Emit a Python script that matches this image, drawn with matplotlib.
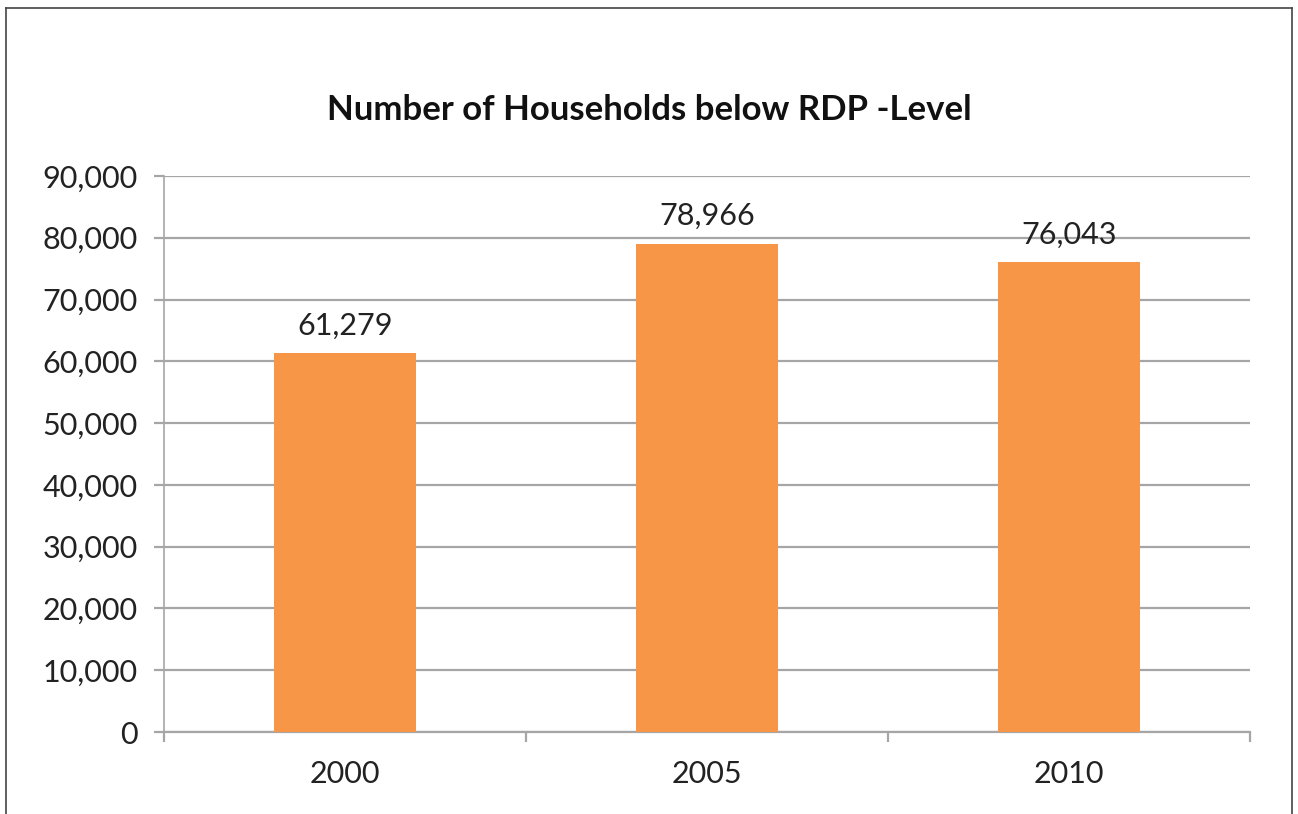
import numpy as np
import matplotlib.pyplot as plt
from matplotlib.lines import Line2D

# Dados do gráfico
anos = ['2000', '2005', '2010']
domicilios = [61279, 78966, 76043]
rotulos = ['61,279', '78,966', '76,043']
y_ticks = [0, 10000, 20000, 30000, 40000, 50000, 60000, 70000, 80000, 90000]

plt.rcParams['font.family'] = ['Lato', 'DejaVu Sans']

fig = plt.figure(figsize=(12.98, 8.14), dpi=100)
ax = fig.add_axes([164/1298, 1 - 732/814, (1250 - 164)/1298, (732 - 176)/814])

cor_barra = '#F79646'
cinza = '#A6A6A6'
texto = '#222222'

x = np.arange(len(anos))
ax.bar(x, domicilios, width=0.39, color=cor_barra, zorder=3)

for xi, v, r in zip(x, domicilios, rotulos):
    ax.annotate(r, (xi, v), xytext=(0, 10), textcoords='offset points',
                ha='center', va='bottom', fontsize=22, color=texto)

ax.set_xlim(-0.5, 2.5)
ax.set_ylim(0, 90000)
ax.set_yticks(y_ticks)
ax.set_yticklabels([f'{v:,}' for v in y_ticks], fontsize=22, color=texto)
ax.set_xticks(x)
ax.set_xticklabels(anos, fontsize=22, color=texto)
ax.set_xticks([-0.5, 0.5, 1.5, 2.5], minor=True)

ax.grid(axis='y', color=cinza, lw=1.6, zorder=0)
for s in ['top', 'right']:
    ax.spines[s].set_visible(False)
ax.spines['left'].set_color(cinza)
ax.spines['bottom'].set_color(cinza)
ax.spines['left'].set_linewidth(1.2)
ax.spines['bottom'].set_linewidth(1.6)

ax.tick_params(axis='y', which='major', length=7, color=cinza, width=1.6, pad=12)
ax.tick_params(axis='x', which='major', length=0, pad=20)
ax.tick_params(axis='x', which='minor', length=7, color=cinza, width=1.6)

# Título centralizado na figura
fig.text(0.5, 1 - 110/814, 'Number of Households below RDP -Level',
         ha='center', va='center', fontsize=25, fontweight='bold', color='#111111')

# Moldura
borda = dict(color='#444444', lw=1.2, transform=fig.transFigure)
fig.add_artist(Line2D([6/1298, 6/1298], [0, 1 - 8/814], **borda))
fig.add_artist(Line2D([1292/1298, 1292/1298], [0, 1 - 8/814], **borda))
fig.add_artist(Line2D([6/1298, 1292/1298], [1 - 8/814, 1 - 8/814], **borda))

fig.savefig('out.png', dpi=100)
